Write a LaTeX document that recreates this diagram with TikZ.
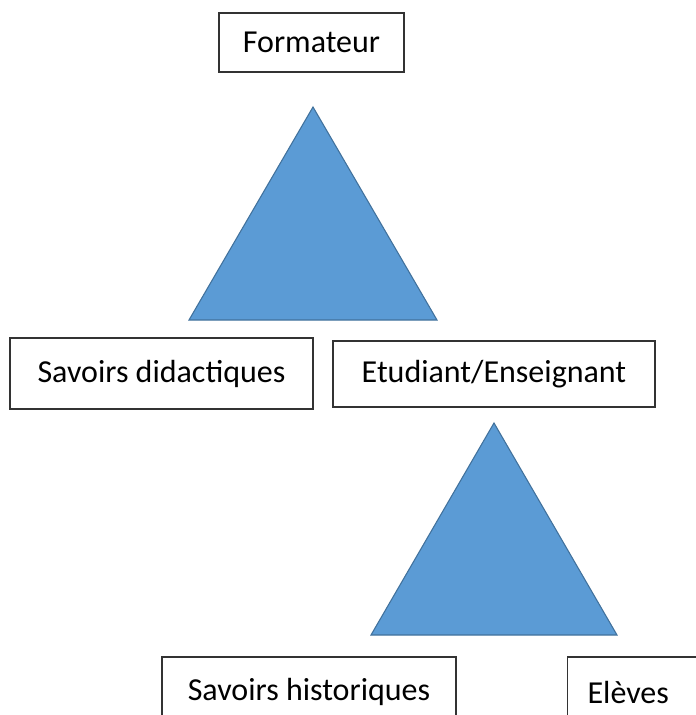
\documentclass[tikz,border=0pt]{standalone}
\usepackage{fontspec}
\setmainfont{Carlito}
\usepackage{tikz}
\usetikzlibrary{positioning}
\definecolor{triblue}{HTML}{5B9BD5}
\definecolor{triedge}{HTML}{41719C}

\begin{document}
\begin{tikzpicture}[x=0.75pt,y=-0.75pt,
	box/.style={draw=black!80,line width=0.9pt,fill=white,font=\fontsize{24}{28}\selectfont},
	tri/.style={fill=triblue,draw=triedge,line width=0.8pt,line join=miter}]
		\useasboundingbox (0,0) rectangle (696,715);
		\clip (0,0) rectangle (696,715);
		\filldraw[tri] (313,107) -- (437,320) -- (189,320) -- cycle;
		\filldraw[tri] (494,423) -- (617,635) -- (371,635) -- cycle;
		\node[box,minimum width=138.75pt,minimum height=44.25pt] (form) at (311.5,42.5) {Formateur};
		\node[box,minimum width=227.25pt,minimum height=53.25pt] (didact) at (161.5,373.5) {Savoirs didactiques};
		\node[box,minimum width=241.5pt,minimum height=49.5pt] (etud) at (494,374) {Etudiant/Enseignant};
		\node[box,minimum width=220.5pt,minimum height=52.5pt] (hist) at (309,692) {Savoirs historiques};
		\node[box,anchor=west,text width=97.5pt,align=left,inner xsep=15pt,minimum height=52.5pt] (eleves) at (567,692) {Elèves};
\end{tikzpicture}
\end{document}
